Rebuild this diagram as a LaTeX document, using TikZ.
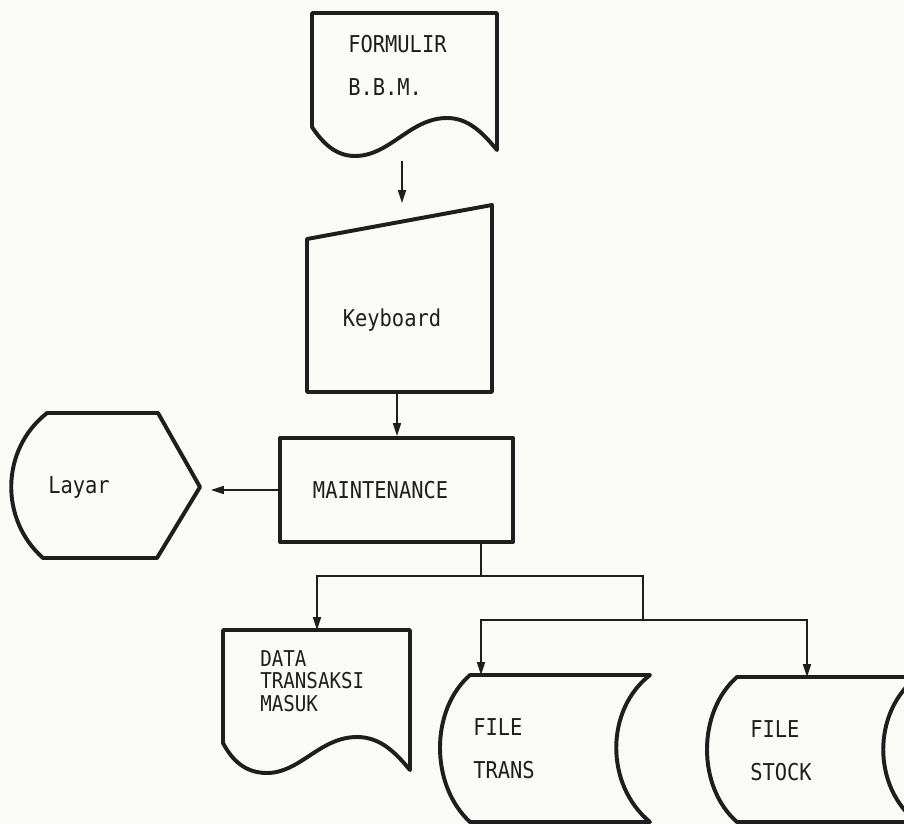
\documentclass[tikz,border=0pt]{standalone}
\usepackage{fontspec}
\usetikzlibrary{arrows.meta, positioning, calc}
\newfontfamily\dotfont[FakeStretch=0.88]{DejaVu Sans Mono}
\definecolor{inkdark}{RGB}{30,30,30}
\definecolor{paper}{RGB}{250,250,247}

\begin{document}
\begin{tikzpicture}[
    x=0.025cm, y=-0.025cm,
    outline/.style={draw=inkdark, line width=2.8pt, line join=round},
    txt/.style={font=\dotfont\fontsize{16.5}{30.5}\selectfont, text=inkdark,
                inner sep=0pt, align=left},
    flow/.style={draw=inkdark, line width=1.1pt},
    arr/.style={flow, -{Triangle[length=3.2mm, width=2mm]}},
]
    \clip (0,0) rectangle (904,824);
    \fill[paper] (0,0) rectangle (904,824);

    % source document
    \draw[outline] (312,13) -- (497,13) -- (497,150)
        .. controls (482,132) and (468,118) .. (447,118)
        .. controls (410,118) and (390,156) .. (355,156)
        .. controls (335,156) and (322,142) .. (312,127) -- cycle;
    \node[txt, anchor=west] (bbm) at (348,65) {FORMULIR\\B.B.M.};

    % manual input
    \draw[outline] (307,239) -- (492,205) -- (492,392) -- (307,392) -- cycle;
    \node[txt] (kbd) at (392,320) {Keyboard};

    % process
    \node[outline, txt, text width=4.175cm, inner xsep=0.825cm, minimum height=2.6cm]
        (maint) at (396.5,490) {MAINTENANCE};

    % display
    \draw[outline] (43,558) .. controls (0,520) and (0,450) .. (47,413)
        -- (158,413) -- (200,487) -- (157,558) -- cycle;
    \node[txt] (layar) at (79,487) {Layar};

    % output document
    \draw[outline] (223,630) -- (410,630) -- (410,770)
        .. controls (395,752) and (380,737) .. (357,737)
        .. controls (320,737) and (300,773) .. (267,773)
        .. controls (245,773) and (232,760) .. (223,743) -- cycle;
    \node[txt, font=\dotfont\fontsize{15.5}{16}\selectfont, anchor=west]
        (dtm) at (260,681) {DATA\\TRANSAKSI\\MASUK};

    % stored files
    \draw[outline] (470,675) -- (650,675) .. controls (605,710) and (605,785) .. (650,822)
        -- (470,822) .. controls (430,785) and (430,710) .. (470,675) -- cycle;
    \node[txt, anchor=west] (ftrans) at (473,749) {FILE\\TRANS};
    \draw[outline] (737,677) -- (917,677) .. controls (872,712) and (872,787) .. (917,822)
        -- (737,822) .. controls (697,787) and (697,712) .. (737,677) -- cycle;
    \node[txt, anchor=west] (fstock) at (750,751) {FILE\\STOCK};

    % connector ends
    \coordinate (bbm-s) at (402,161);
    \coordinate (kbd-n) at (402,203);
    \coordinate (kbd-s) at (397,392);
    \coordinate (layar-e) at (211,487);
    \coordinate (dtm-n) at (317,630);
    \coordinate (ftrans-n) at (481,675);
    \coordinate (fstock-n) at (807,677);
    \coordinate (tap) at (481,576);
    \coordinate (tap2) at (643,620);

    \draw[arr] (bbm-s) -- (kbd-n);
    \draw[arr] (kbd-s) -- (kbd-s |- maint.north);
    \draw[arr] (maint.west) -- (maint.west -| layar-e);
    \draw[flow] (tap |- maint.south) -- (tap);
    \draw[arr] (tap) -| (dtm-n);
    \draw[flow] (tap) -| (tap2);
    \draw[arr] (tap2) -| (ftrans-n);
    \draw[arr] (tap2) -| (fstock-n);
\end{tikzpicture}
\end{document}
